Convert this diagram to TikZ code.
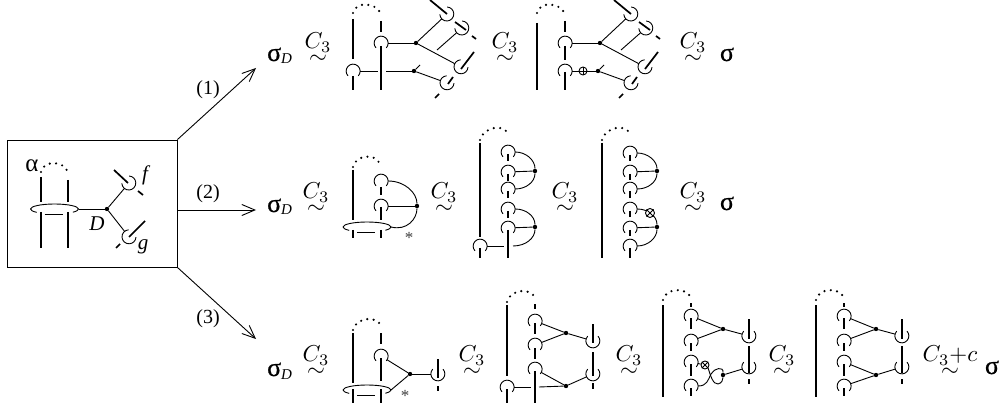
\documentclass[tikz,border=0pt]{standalone}
\usepackage[no-math]{fontspec}
\usepackage{graphicx}
\newfontfamily\tms{Liberation Serif}
\newfontfamily\sgf[FakeBold=0.6]{Liberation Serif}
\usetikzlibrary{arrows.meta}
\tikzset{
  x=1pt,y=1pt,
  thn/.style={line width=0.9pt},
  strand/.style={line width=1.7pt},
  domeline/.style={line width=2.4pt,line cap=round,dash pattern=on 0pt off 6.4pt},
  dotn/.style={circle,fill=black,inner sep=0pt,minimum size=4.4pt},
  hookn/.style={circle,inner sep=0pt,minimum size=14pt},
  symn/.style={circle,draw,thn,inner sep=0pt,minimum size=9pt},
  arr/.style={line width=0.9pt,-{Straight Barb[length=13pt,width=11pt,line width=0.9pt]}},
  lab/.style={font=\tms\fontsize{20}{22}\selectfont,inner sep=0pt},
  ital/.style={font=\tms\itshape\fontsize{21}{21}\selectfont,inner sep=0pt},
  sgm/.style={font=\sgf\fontsize{26}{26}\selectfont,inner sep=0pt,anchor=base},
  simn/.style={inner sep=0pt},
  star/.style={font=\tms\fontsize{17}{17}\selectfont,inner sep=0pt,text=black!75}
}
% clasp: name, x, y, opening direction
\newcommand\clasp[4]{\node[hookn] (#1) at (#2,#3) {};
  \pgfmathsetmacro\aS{#4+48}\pgfmathsetmacro\aE{#4+312}
  \draw[thn] (#1.\aS) arc (\aS:\aE:7);}
\newcommand\hk[3]{\clasp{#1}{#2}{#3}{270}}
\newcommand\dt[3]{\node[dotn] (#1) at (#2,#3) {};}
\newcommand\st[4]{\draw[strand] (#1,#2) -- (#3,#4);}
\newcommand\dome[4]{\draw[domeline] (#1,#2) .. controls +(2,12) and +(-3,13) .. (#3,#4);}
% ring: name, centre x, y
\newcommand\ring[3]{\coordinate (#1) at (#2+24,#3);
  \draw[thn] (#2-24,#3) arc (180:0:24 and 5);
  \draw[thn] (#2-24,#3) arc (180:222:24 and 5);
  \draw[thn] (#2+24,#3) arc (0:-40:24 and 5);
  \draw[thn] (#2-10,#3-5) -- (#2+8,#3-5);}
\newcommand\simlab[3]{\node[simn] (#1) at (#2,#3) {\scalebox{2.3}{$\stackrel{\textstyle C_3}{\sim}$}};}
\newcommand\sigD[2]{\node[sgm,anchor=base west] (#1) at (267,#2) {σ\raisebox{-3pt}{\tms\fontsize{15}{15}\selectfont\itshape D}};}
% the four leaves of row one
\newcommand\leaves[1]{
  \dt{#1a}{416}{-43}\dt{#1b}{414}{-71}
  \clasp{#1p}{447}{-14}{135}
  \clasp{#1q}{462}{-28}{135}
  \clasp{#1r}{461}{-67}{45}
  \clasp{#1s}{447}{-83}{45}
  \st{430}{0}{447}{-14}
  \st{455}{-22}{466}{-30}
  \st{474}{-52}{461}{-69}
  \st{453}{-77}{448}{-84}
  \st{472}{-36}{476}{-39}
  \st{435}{-98}{439}{-94}
  \draw[thn] (#1a) -- (#1p);
  \draw[thn] (#1a) -- (#1r);
  \draw[thn] (#1b) -- (#1s);
  \draw[thn] (#1b) -- (420,-65);
  \draw[thn] (437,-50) -- (#1q);
}
% last two columns of row three: the four hooks and right clasps
\newcommand\rowthreehooks[2]{
  \dome{#2-28}{-300}{#2}{-299}
  \st{#2-28}{-305}{#2-28}{-397}
  \st{#2}{-303}{#2}{-307}
  \hk{#1a}{#2}{-316}\st{#2}{-318}{#2}{-329}
  \hk{#1b}{#2}{-341}\st{#2}{-343}{#2}{-351}
  \hk{#1c}{#2}{-362}\st{#2}{-364}{#2}{-376}
  \hk{#1d}{#2}{-386}\st{#2}{-388}{#2}{-396}
  \dt{#1x}{#2+32}{-329}\dt{#1y}{#2+32}{-375}
  \clasp{#1u}{#2+58}{-336}{90}\st{#2+58}{-319}{#2+58}{-339}
  \clasp{#1v}{#2+58}{-367}{90}\st{#2+58}{-346}{#2+58}{-373}
  \st{#2+58}{-379}{#2+58}{-384}
  \draw[thn] (#1a) -- (#1x);\draw[thn] (#1b) -- (#1x);
  \draw[thn] (#1x) -- (#1u);\draw[thn] (#1y) -- (#1v);
}
\begin{document}
\begin{tikzpicture}
\useasboundingbox (0,0) rectangle (999,-406);
% ---- box
\node[draw,thn,minimum width=170pt,minimum height=127pt,inner sep=0pt] (box) at (92,-203.5) {};
\dome{41}{-172}{68}{-173}
\st{41}{-177}{41}{-202}\st{68}{-180}{68}{-202}
\st{41}{-212}{41}{-248}\st{68}{-212}{68}{-248}
\ring{ra}{54.5}{-209}
\dt{da}{107}{-209}
\draw[thn] (ra) -- (da);
\clasp{cf}{129}{-183}{135}\clasp{cg}{129}{-237}{45}
\draw[thn] (da) -- (cf);\draw[thn] (da) -- (cg);
\st{114}{-170}{128}{-183}\st{138}{-191}{143}{-195}
\st{145}{-221}{129}{-237}\st{116}{-248}{120}{-244}
\node[ital] (lf) at (145,-175) {f};
\node[ital] (lg) at (143,-247) {g};
\node[ital] (lD) at (97,-224) {D};
\node[lab,font=\tms\fontsize{25}{25}\selectfont] (la) at (32,-166) {α};
% ---- arrows
\coordinate (t1) at (256,-68);\coordinate (t2) at (256,-210);\coordinate (t3) at (256,-339);
\draw[arr] (box.north east) -- (t1);
\draw[arr] (177,-210) -- (t2);
\draw[arr] (box.south east) -- (t3);
\node[lab] (n1) at (208,-90) {(1)};
\node[lab] (n2) at (208,-194) {(2)};
\node[lab] (n3) at (208,-319) {(3)};
\sigD{s1}{-61}\sigD{s2}{-212}\sigD{s3}{-376}
% ---- row 1
\simlab{a1}{318}{-47}\simlab{a2}{505}{-47}\simlab{a3}{693}{-47}
\node[sgm] (e1) at (727,-61) {σ};
% row 1, first diagram
\dome{353}{-13}{381}{-15}
\st{353}{-19}{353}{-59}\st{353}{-76}{353}{-90}
\st{381}{-21}{381}{-32}\st{381}{-46}{381}{-90}
\hk{b1}{353}{-71}\hk{b2}{381}{-43}
\leaves{L}
\coordinate (g1) at (378,-71);\coordinate (g2) at (386,-71);
\draw[thn] (b1) -- (g1);\draw[thn] (g2) -- (Lb);
\draw[thn] (b2) -- (La);
% row 1, second diagram
\dome{537}{-13}{565}{-15}
\st{537}{-23}{537}{-90}
\st{565}{-21}{565}{-32}\st{565}{-46}{565}{-60}\st{565}{-72}{565}{-90}
\hk{c1}{565}{-43}\hk{c2}{565}{-71}
\begin{scope}[xshift=184pt]\leaves{M}\end{scope}
\node[symn,minimum size=8pt] (o1) at (583,-71) {};
\draw[thn] (o1.north) -- (o1.south) (o1.west) -- (o1.east);
\draw[thn] (c1) -- (Ma);
\draw[thn] (c2) -- (o1);\draw[thn] (o1) -- (Mb);
% ---- row 2
\simlab{a4}{316}{-197}\simlab{a5}{444}{-197}\simlab{a6}{565}{-197}\simlab{a7}{693}{-197}
\node[sgm] (e2) at (727,-210) {σ};
% row 2, first
\dome{353}{-167}{380}{-165}
\st{353}{-170}{353}{-220}\st{353}{-230}{353}{-238}
\st{381}{-187}{381}{-195}\st{381}{-207}{381}{-220}\st{381}{-230}{381}{-238}
\hk{d1}{381}{-181}\hk{d2}{381}{-206}
\ring{rb}{367}{-227}
\dt{db}{417}{-206}
\draw[thn] (d2) -- (db);
\draw[thn] (d1.east) .. controls (405,-181) and (417,-193) .. (db.north);
\draw[thn] (rb) .. controls (407,-231) and (417,-219) .. (db.south);
\node[star] (sa) at (409,-238) {*};
% row 2, second
\dome{480}{-140}{508}{-135}
\st{480}{-143}{480}{-237}\st{480}{-248}{480}{-258}
\hk{f0}{480}{-246}
\hk{f1}{508}{-152}\hk{f2}{508}{-172}\hk{f3}{508}{-189}\hk{f4}{508}{-209}\hk{f5}{508}{-228}
\st{508}{-154}{508}{-161}\st{508}{-174}{508}{-181}\st{508}{-191}{508}{-198}\st{508}{-211}{508}{-218}\st{508}{-230}{508}{-258}
\dt{f8}{535}{-171}\dt{f9}{535}{-227}
\draw[thn] (f2) -- (f8);\draw[thn] (f5) -- (f9);
\draw[thn] (f1.east) .. controls (526,-152) and (535,-160) .. (f8.north);
\draw[thn] (f3.east) .. controls (526,-189) and (535,-182) .. (f8.south);
\draw[thn] (f4.east) .. controls (526,-209) and (535,-216) .. (f9.north);
\coordinate (g3) at (504,-246);\coordinate (g4) at (513,-246);
\draw[thn] (f0) -- (g3);
\draw[thn] (g4) .. controls (526,-246) and (535,-238) .. (f9.south);
% row 2, third
\dome{602}{-140}{630}{-135}
\st{602}{-143}{602}{-258}
\hk{k1}{630}{-153}\hk{k2}{630}{-172}\hk{k3}{630}{-189}\hk{k4}{630}{-209}\hk{k5}{630}{-228}\hk{k6}{630}{-246}
\st{630}{-155}{630}{-161}\st{630}{-174}{630}{-180}\st{630}{-191}{630}{-198}\st{630}{-211}{630}{-217}\st{630}{-230}{630}{-236}\st{630}{-248}{630}{-258}
\dt{k8}{657}{-171}\dt{k9}{657}{-227}
\draw[thn] (k2) -- (k8);\draw[thn] (k5) -- (k9);
\draw[thn] (k1.east) .. controls (648,-153) and (657,-161) .. (k8.north);
\draw[thn] (k3.east) .. controls (648,-189) and (657,-182) .. (k8.south);
\draw[thn] (k4.east) .. controls (648,-209) and (657,-216) .. (k9.north);
\draw[thn] (k6.east) .. controls (648,-246) and (657,-238) .. (k9.south);
\node[symn,fill=white] (o2) at (650,-213) {};
\draw[thn] (o2.45) -- (o2.225) (o2.135) -- (o2.315);
% ---- row 3
\simlab{a8}{316}{-360}\simlab{a9}{472}{-360}\simlab{a10}{629}{-360}\simlab{a11}{782}{-360}
\node[simn] (a12) at (950,-360) {\scalebox{2.3}{$\stackrel{\textstyle C_3{+}c}{\sim}$}};
\node[sgm] (e3) at (992,-374) {σ};
% row 3, first
\dome{353}{-330}{381}{-327}
\st{353}{-333}{353}{-383}\st{353}{-389}{353}{-403}
\st{381}{-333}{381}{-344}\st{381}{-358}{381}{-381}\st{381}{-389}{381}{-403}
\hk{m1}{381}{-356}
\ring{rc}{367}{-390}
\dt{mx}{410}{-374}
\clasp{mc}{438}{-374}{90}
\st{438}{-359}{438}{-378}\st{438}{-386}{438}{-391}
\draw[thn] (m1) -- (mx);\draw[thn] (rc) -- (mx);\draw[thn] (mx) -- (mc);
\node[star] (sb) at (405,-396) {*};
% row 3, second
\dome{507}{-302}{535}{-299}
\st{507}{-305}{507}{-376}\st{507}{-389}{507}{-403}
\st{535}{-304}{535}{-309}\st{535}{-323}{535}{-334}\st{535}{-348}{535}{-359}\st{535}{-371}{535}{-403}
\hk{p0}{507}{-387}\hk{p1}{535}{-321}\hk{p2}{535}{-345}\hk{p3}{535}{-369}
\dt{px}{566}{-333}\dt{py}{566}{-386}
\clasp{pu}{593}{-341}{90}\clasp{pv}{593}{-374}{90}
\st{593}{-324}{593}{-343}\st{593}{-352}{593}{-376}\st{593}{-383}{593}{-389}
\coordinate (g5) at (531,-387);\coordinate (g6) at (539,-387);
\draw[thn] (p1) -- (px);\draw[thn] (p2) -- (px);\draw[thn] (p3) -- (py);
\draw[thn] (p0) -- (g5);\draw[thn] (g6) -- (py);
\draw[thn] (px) -- (pu);\draw[thn] (py) -- (pv);
% row 3, third
\rowthreehooks{q}{691}
\node[symn,minimum size=8pt,fill=white] (o3) at (705,-365) {};
\draw[thn] (o3.45) -- (o3.225) (o3.135) -- (o3.315);
\draw[thn] (qc) -- (o3);
\draw[thn] (o3.south east) .. controls (710,-374) and (713,-385) .. (718,-384) .. controls (722,-383) and (723,-380) .. (qy.south);
\draw[thn] (qd.east) .. controls (707,-386) and (708,-380) .. (711,-374) .. controls (714,-368) and (724,-366) .. (qy.north);
% row 3, fourth
\rowthreehooks{w}{844}
\draw[thn] (wc) -- (wy);\draw[thn] (wd) -- (wy);
\end{tikzpicture}
\end{document}
